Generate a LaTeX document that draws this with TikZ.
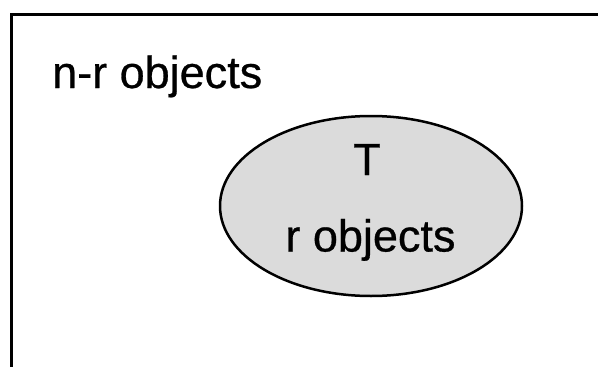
\documentclass[tikz,border=0pt]{standalone}
\usepackage{fontspec}
\setmainfont{Liberation Sans}[FakeBold=0.6]
\usetikzlibrary{shapes.geometric}
\begin{document}
\begin{tikzpicture}[x=1pt,y=-1pt,
  lbl/.style={inner sep=0pt, font=\fontsize{45}{54}\selectfont},
  setT/.style={ellipse, draw=black, line width=2.5pt, fill=black!14,
    minimum width=302pt, minimum height=180pt, inner sep=0pt}]
\useasboundingbox (0,0) rectangle (598,367);
\begin{scope}
\clip (0,0) rectangle (598,367);
\coordinate (bl) at (11.5,380);
\coordinate (tl) at (11.5,14.5);
\coordinate (tr) at (610,14.5);
\draw[line width=3pt, line join=miter] (bl) -- (tl) -- (tr);
\end{scope}
\node[setT] (set) at (371,206) {};
\node[lbl, anchor=base west] (outer) at (52,88) {n-r objects};
\node[lbl, anchor=base] (tname) at (367,175) {T};
\node[lbl, anchor=base] (inner) at (370.5,251.5) {r objects};
\end{tikzpicture}
\end{document}
